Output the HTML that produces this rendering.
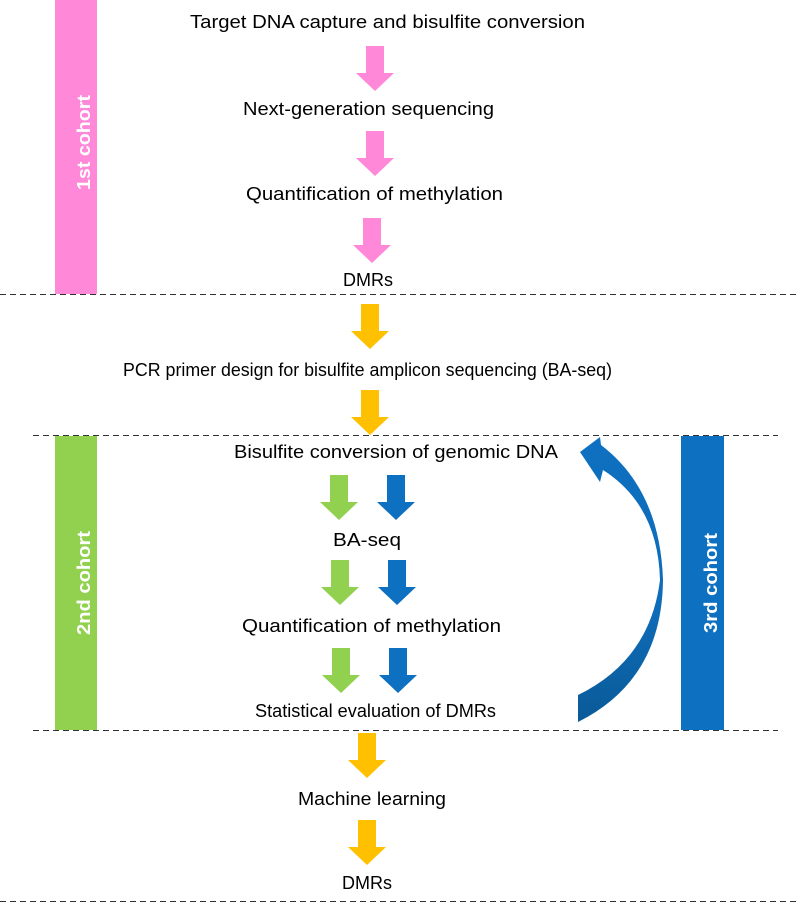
<!DOCTYPE html>
<html><head><meta charset="utf-8"><style>
body{margin:0;background:#fff}
svg text{font-family:"Liberation Sans","DejaVu Sans",sans-serif;font-size:18px;fill:#000}
</style></head><body>
<svg width="797" height="902" viewBox="0 0 797 902" xmlns="http://www.w3.org/2000/svg">
<defs>
<g id="ar"><polygon points="-9,0 9,0 9,27 19,27 0,45 -19,27 -9,27"/></g>
<linearGradient id="cg" x1="0" y1="0" x2="0" y2="1">
<stop offset="0" stop-color="#0e70c0"/><stop offset="0.6" stop-color="#0e6cb8"/><stop offset="1" stop-color="#0a5a98"/>
</linearGradient>
</defs>
<rect x="55" y="0" width="42" height="294" fill="#ff88d8"/>
<rect x="55" y="436" width="42" height="294" fill="#92d050"/>
<rect x="681" y="436" width="43" height="294" fill="#0e70c0"/>
<text transform="translate(83,143) rotate(-90)" x="-47" y="7" textLength="95" lengthAdjust="spacingAndGlyphs" style="fill:#fff;font-weight:bold">1st cohort</text>
<text transform="translate(83,583) rotate(-90)" x="-52" y="7" textLength="104" lengthAdjust="spacingAndGlyphs" style="fill:#fff;font-weight:bold">2nd cohort</text>
<text transform="translate(710,583) rotate(-90)" x="-50" y="7" textLength="100" lengthAdjust="spacingAndGlyphs" style="fill:#fff;font-weight:bold">3rd cohort</text>
<g fill="#ff88d8">
<use href="#ar" x="375" y="46"/><use href="#ar" x="375" y="131"/><use href="#ar" x="372" y="218"/>
</g>
<g fill="#ffc000">
<use href="#ar" x="370" y="304"/><use href="#ar" x="370" y="390"/><use href="#ar" x="367" y="733"/><use href="#ar" x="367" y="820"/>
</g>
<g fill="#92d050">
<use href="#ar" x="339" y="475"/><use href="#ar" x="340" y="560"/><use href="#ar" x="341" y="648"/>
</g>
<g fill="#0e70c0">
<use href="#ar" x="396" y="475"/><use href="#ar" x="397" y="560"/><use href="#ar" x="398" y="648"/>
</g>
<path d="M580,452 L600,437 L601,445 Q660,490 663,580 Q662,680 578,722 L578,695 Q650,660 660,580 Q658,505 603,470 L600,482 Z" fill="url(#cg)"/>
<g stroke="#333" stroke-width="1" stroke-dasharray="6,4">
<line x1="0" y1="294.5" x2="797" y2="294.5"/>
<line x1="33" y1="435.5" x2="778" y2="435.5"/>
<line x1="33" y1="730.5" x2="778" y2="730.5"/>
<line x1="0" y1="901.5" x2="797" y2="901.5"/>
</g>
<g lengthAdjust="spacingAndGlyphs">
<text x="190" y="28" textLength="395" lengthAdjust="spacingAndGlyphs">Target DNA capture and bisulfite conversion</text>
<text x="243" y="115" textLength="251" lengthAdjust="spacingAndGlyphs">Next-generation sequencing</text>
<text x="246" y="200" textLength="257" lengthAdjust="spacingAndGlyphs">Quantification of methylation</text>
<text x="343" y="286" textLength="50" lengthAdjust="spacingAndGlyphs">DMRs</text>
<text x="123" y="376" textLength="489" lengthAdjust="spacingAndGlyphs">PCR primer design for bisulfite amplicon sequencing (BA-seq)</text>
<text x="234" y="458" textLength="324" lengthAdjust="spacingAndGlyphs">Bisulfite conversion of genomic DNA</text>
<text x="333" y="546" textLength="68" lengthAdjust="spacingAndGlyphs">BA-seq</text>
<text x="242" y="632" textLength="259" lengthAdjust="spacingAndGlyphs">Quantification of methylation</text>
<text x="255" y="717" textLength="241" lengthAdjust="spacingAndGlyphs">Statistical evaluation of DMRs</text>
<text x="298" y="805" textLength="148" lengthAdjust="spacingAndGlyphs">Machine learning</text>
<text x="342" y="889" textLength="50" lengthAdjust="spacingAndGlyphs">DMRs</text>
</g>
</svg>
</body></html>
